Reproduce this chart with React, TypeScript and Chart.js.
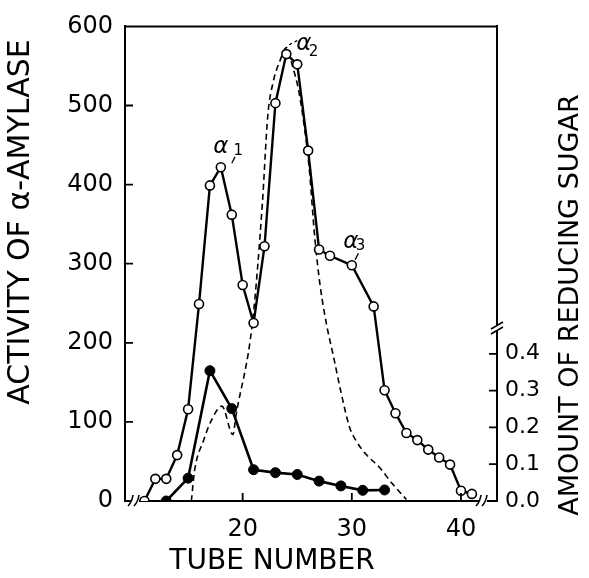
import { useEffect, useRef } from "react";
import { Chart, registerables } from "chart.js";

Chart.register(...registerables);

// Activity of α-amylase (open circles, left axis)
const activityTubes = [11, 12, 13, 14, 15, 16, 17, 18, 19, 20, 21, 22, 23, 24, 25, 26, 27, 28, 30, 32, 33, 34, 35, 36, 37, 38, 39, 40, 41];
const activityValues = [0, 28, 28, 58, 116, 249, 399, 422, 362, 273, 225, 322, 503, 565, 552, 443, 318, 310, 298, 246, 140, 111, 86, 77, 65, 55, 46, 13, 9];

// Amount of reducing sugar (filled circles, right axis)
const sugarTubes = [13, 15, 17, 19, 21, 23, 25, 27, 29, 31, 33];
const sugarValues = [0, 0.062, 0.354, 0.251, 0.085, 0.077, 0.072, 0.054, 0.041, 0.029, 0.03];

// Dashed curve (left axis)
const dashedTubes = [15.3, 15.6, 16.4, 17.1, 18.1, 19.1, 19.4, 20.9, 21.8, 22.3, 22.8, 23.4, 24.0, 24.6, 25.1, 25.6, 26.1, 26.6, 27.1, 27.7, 28.3, 29.0, 29.8, 30.4, 31.3, 32.5, 33.7, 35.0];
const dashedValues = [0, 39, 76, 101, 120, 84, 109, 226, 375, 487, 530, 556, 573, 548, 521, 478, 420, 334, 272, 222, 184, 138, 93, 76, 59, 43, 22, 2];

const xTickValues = [20, 30, 40];
const leftTickValues = [0, 100, 200, 300, 400, 500, 600];
const rightTickValues = [0, 0.1, 0.2, 0.3, 0.4];

const peakNames = ["1", "2", "3"];

const FONT = '"DejaVu Sans", sans-serif';

const decorPlugin = {
  id: "decor",
  afterDraw(chart: any) {
    const { ctx, chartArea, scales } = chart;
    const xs = scales.x;
    const yl = scales.y;
    const yr = scales.y1;
    const { left, right, top, bottom } = chartArea;
    ctx.save();
    ctx.strokeStyle = "#000";
    ctx.fillStyle = "#000";
    ctx.lineWidth = 2;
    ctx.lineCap = "butt";
    // top frame line
    ctx.beginPath();
    ctx.moveTo(left - 1, top);
    ctx.lineTo(right + 1, top);
    ctx.stroke();
    // inward ticks
    ctx.lineWidth = 1.8;
    ctx.beginPath();
    leftTickValues.forEach((v) => {
      if (v === 0 || v === 600) return;
      const y = yl.getPixelForValue(v);
      ctx.moveTo(left, y);
      ctx.lineTo(left + 8, y);
    });
    rightTickValues.forEach((v) => {
      if (v === 0) return;
      const y = yr.getPixelForValue(v);
      ctx.moveTo(right, y);
      ctx.lineTo(right - 8, y);
    });
    xTickValues.forEach((v) => {
      const x = xs.getPixelForValue(v);
      ctx.moveTo(x, bottom);
      ctx.lineTo(x, bottom - 8);
    });
    ctx.stroke();

    // break marks on bottom axis
    const breakAt = (cx: number) => {
      ctx.fillStyle = "#fff";
      ctx.fillRect(cx - 4, bottom - 3, 8, 6);
      ctx.beginPath();
      ctx.moveTo(cx - 7, bottom + 5);
      ctx.quadraticCurveTo(cx - 3, bottom + 1, cx - 2, bottom - 6);
      ctx.moveTo(cx - 1, bottom + 5);
      ctx.quadraticCurveTo(cx + 3, bottom + 1, cx + 4, bottom - 6);
      ctx.lineWidth = 1.6;
      ctx.stroke();
    };
    breakAt(left + 10);
    breakAt(right - 14);
    // break on right axis
    const by = yr.getPixelForValue(0.47);
    ctx.fillStyle = "#fff";
    ctx.fillRect(right - 3, by - 3, 6, 6);
    ctx.beginPath();
    ctx.moveTo(right - 6, by + 1);
    ctx.lineTo(right + 6, by - 6);
    ctx.moveTo(right - 6, by + 6);
    ctx.lineTo(right + 6, by - 1);
    ctx.stroke();

    // axis titles
    ctx.fillStyle = "#000";
    ctx.textAlign = "center";
    ctx.textBaseline = "middle";
    ctx.font = `28px ${FONT}`;
    ctx.fillText("TUBE NUMBER", 272, 562);
    ctx.save();
    ctx.translate(21, 222);
    ctx.rotate(-Math.PI / 2);
    ctx.font = `30px ${FONT}`;
    ctx.fillText("ACTIVITY OF α-AMYLASE", 0, 0);
    ctx.restore();
    ctx.save();
    ctx.translate(571, 305);
    ctx.rotate(-Math.PI / 2);
    ctx.font = `27px ${FONT}`;
    ctx.fillText("AMOUNT OF REDUCING SUGAR", 0, 0);
    ctx.restore();

    // peak labels
    const labelPos = [
      { ax: 18.0, ay: 447, sx: 19.6, sy: 442, l: [[19.3, 435], [19.0, 427]] },
      { ax: 25.6, ay: 578, sx: 26.5, sy: 568, l: [[25.0, 582], [24.4, 578], [23.6, 568]] },
      { ax: 29.9, ay: 328, sx: 30.8, sy: 322, l: [[30.6, 313], [30.3, 305]] },
    ];
    labelPos.forEach((p, i) => {
      ctx.font = `italic 23px ${FONT}`;
      ctx.fillText("α", xs.getPixelForValue(p.ax), yl.getPixelForValue(p.ay));
      ctx.font = `15px ${FONT}`;
      ctx.fillText(peakNames[i], xs.getPixelForValue(p.sx), yl.getPixelForValue(p.sy));
      ctx.beginPath();
      ctx.lineWidth = 1.3;
      if (i === 1) ctx.setLineDash([3, 3]);
      p.l.forEach((pt, j) => {
        const px = xs.getPixelForValue(pt[0]);
        const py = yl.getPixelForValue(pt[1]);
        if (j === 0) ctx.moveTo(px, py);
        else ctx.lineTo(px, py);
      });
      ctx.stroke();
      ctx.setLineDash([]);
    });
    ctx.restore();
  },
};

export default function App() {
  const ref = useRef<HTMLCanvasElement | null>(null);
  useEffect(() => {
    if (!ref.current) return;
    const tickFont = { family: FONT, size: 24 };
    const chart = new Chart(ref.current, {
      type: "line",
      data: {
        datasets: [
          {
            label: "activity",
            data: activityTubes.map((x, i) => ({ x, y: activityValues[i] })),
            yAxisID: "y",
            borderColor: "#000",
            borderWidth: 2.4,
            pointRadius: 4.5,
            pointBackgroundColor: "#fff",
            pointBorderColor: "#000",
            pointBorderWidth: 1.6,
            tension: 0,
          },
          {
            label: "sugar",
            data: sugarTubes.map((x, i) => ({ x, y: sugarValues[i] })),
            yAxisID: "y1",
            borderColor: "#000",
            borderWidth: 2.6,
            pointRadius: 5,
            pointBackgroundColor: "#000",
            pointBorderColor: "#000",
            pointBorderWidth: 1,
            tension: 0,
          },
          {
            label: "dashed",
            data: dashedTubes.map((x, i) => ({ x, y: dashedValues[i] })),
            yAxisID: "y",
            borderColor: "#000",
            borderWidth: 1.6,
            borderDash: [6, 4],
            pointRadius: 0,
            cubicInterpolationMode: "monotone",
          },
        ],
      },
      options: {
        animation: false,
        responsive: false,
        layout: { padding: { top: 20, left: 0, right: 0, bottom: 0 } },
        plugins: { legend: { display: false }, tooltip: { enabled: false } },
        scales: {
          x: {
            type: "linear",
            min: 9.22,
            max: 43.3,
            grid: { display: false, drawTicks: false },
            border: { display: true, color: "#000", width: 2 },
            ticks: { font: tickFont, color: "#000", padding: 14, callback: (v: any) => String(v) },
            afterBuildTicks: (s: any) => {
              s.ticks = xTickValues.map((v) => ({ value: v }));
            },
            afterFit: (s: any) => {
              s.height = 77;
            },
          },
          y: {
            position: "left",
            min: 0,
            max: 600,
            grid: { display: false, drawTicks: false },
            border: { display: true, color: "#000", width: 2 },
            ticks: { font: tickFont, color: "#000", padding: 12, callback: (v: any) => String(v) },
            afterBuildTicks: (s: any) => {
              s.ticks = leftTickValues.map((v) => ({ value: v }));
            },
            afterFit: (s: any) => {
              s.width = 125;
            },
          },
          y1: {
            position: "right",
            min: 0,
            max: 1.2895,
            grid: { display: false, drawTicks: false },
            border: { display: true, color: "#000", width: 2 },
            ticks: { font: { family: FONT, size: 22 }, color: "#000", padding: 8, callback: (v: any) => Number(v).toFixed(1) },
            afterBuildTicks: (s: any) => {
              s.ticks = rightTickValues.map((v) => ({ value: v }));
            },
            afterFit: (s: any) => {
              s.width = 92;
            },
          },
        },
      },
      plugins: [decorPlugin],
    } as any);
    return () => chart.destroy();
  }, []);
  return (
    <div style={{ position: "fixed", left: 0, top: 0, width: 589, height: 578, background: "#fff" }}>
      <canvas ref={ref} width={589} height={578} />
    </div>
  );
}
